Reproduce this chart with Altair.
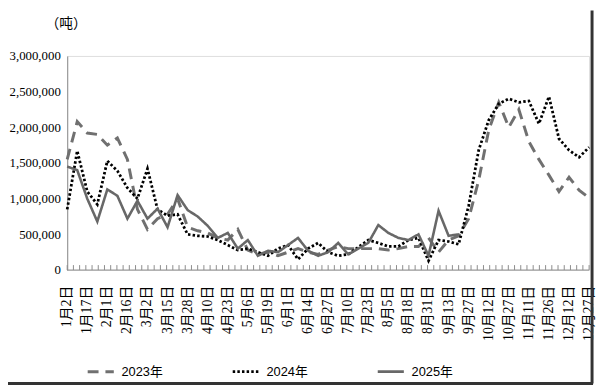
import altair as alt
import pandas as pd

labels = ["1月2日", "1月17日", "2月1日", "2月16日", "3月2日", "3月15日", "3月28日",
          "4月10日", "4月23日", "5月6日", "5月19日", "6月1日", "6月14日", "6月27日",
          "7月10日", "7月23日", "8月5日", "8月18日", "8月31日", "9月13日", "9月27日",
          "10月12日", "10月27日", "11月11日", "11月26日", "12月12日", "12月27日"]

# values in million tonnes, one per weekly category
v2023 = [1.55, 2.08, 1.92, 1.90, 1.75, 1.85, 1.55, 0.85, 0.57, 0.72, 0.78, 1.00, 0.60,
         0.55, 0.52, 0.45, 0.42, 0.57, 0.28, 0.22, 0.25, 0.20, 0.25, 0.30, 0.25, 0.22,
         0.28, 0.33, 0.30, 0.30, 0.30, 0.30, 0.28, 0.30, 0.33, 0.33, 0.45, 0.25, 0.42,
         0.48, 0.72, 1.26, 1.96, 2.35, 2.00, 2.25, 1.80, 1.55, 1.33, 1.10, 1.30, 1.12, 1.01]
v2024 = [0.85, 1.67, 1.10, 0.92, 1.53, 1.39, 1.15, 1.00, 1.42, 0.85, 0.76, 0.78, 0.50,
         0.48, 0.47, 0.42, 0.35, 0.28, 0.30, 0.25, 0.20, 0.30, 0.35, 0.15, 0.30, 0.38,
         0.25, 0.20, 0.22, 0.32, 0.42, 0.38, 0.33, 0.33, 0.42, 0.45, 0.13, 0.42, 0.40,
         0.36, 0.90, 1.68, 2.10, 2.33, 2.40, 2.35, 2.37, 2.05, 2.43, 1.84, 1.68, 1.58, 1.72]
v2025 = [1.45, 1.40, 1.00, 0.68, 1.13, 1.04, 0.72, 0.97, 0.72, 0.86, 0.60, 1.05, 0.84,
         0.75, 0.62, 0.45, 0.52, 0.30, 0.42, 0.20, 0.27, 0.25, 0.35, 0.45, 0.27, 0.20,
         0.25, 0.38, 0.22, 0.30, 0.38, 0.63, 0.52, 0.45, 0.42, 0.50, 0.20, 0.83, 0.48, 0.50]

series_names = ["2023年", "2024年", "2025年"]
series_colors = ["#707070", "#000000", "#686868"]
series_dash = [[11, 7], [2.5, 2.2], [1, 0]]
series_width = [3, 2.6, 3.2]

rows = []
for name, vals in zip(series_names, [v2023, v2024, v2025]):
    for i, v in enumerate(vals):
        rows.append({"idx": i, "value": v * 1_000_000, "series": name})
df = pd.DataFrame(rows)

n_cat = 53
n_ticks = 85
W, H = 529, 217

serif = "Liberation Serif, Noto Sans CJK SC"
sans = "Liberation Sans, Noto Sans CJK SC"
axis_grey = "#8c8c8c"

xscale = alt.Scale(domain=[0, n_cat - 1], nice=False, zero=False)

legend = alt.Legend(
    orient="none", legendX=19, legendY=305, direction="horizontal", title=None,
    symbolType="stroke", symbolSize=700, symbolStrokeWidth=3,
    labelFont=sans, labelFontSize=13, labelColor="#000000",
    columnPadding=65, labelOffset=6,
)

lines = alt.Chart(df).mark_line().encode(
    x=alt.X("idx:Q", scale=xscale, axis=None),
    y=alt.Y("value:Q", scale=alt.Scale(domain=[0, 3_000_000], nice=False),
            axis=alt.Axis(values=[0, 500000, 1000000, 1500000, 2000000, 2500000, 3000000],
                          format=",d", labelFont=serif, labelFontSize=13,
                          labelColor="#000000", labelPadding=7, ticks=False,
                          domainColor=axis_grey, domainWidth=1, grid=False, title=None)),
    color=alt.Color("series:N", scale=alt.Scale(domain=series_names, range=series_colors),
                    legend=legend),
    strokeDash=alt.StrokeDash("series:N", scale=alt.Scale(domain=series_names, range=series_dash),
                              legend=legend),
    strokeWidth=alt.StrokeWidth("series:N", scale=alt.Scale(domain=series_names, range=series_width),
                                legend=None),
)

# x axis: baseline, short upward ticks, rotated labels every 2nd category
base = alt.Chart(pd.DataFrame({"a": [0]})).mark_rule(color=axis_grey, strokeWidth=1).encode(
    x=alt.value(0), x2=alt.value(W), y=alt.value(H))

tick_df = pd.DataFrame({"idx": [k * (n_cat - 1) / (n_ticks - 1) for k in range(n_ticks)]})
ticks = alt.Chart(tick_df).mark_rule(color=axis_grey, strokeWidth=1).encode(
    x=alt.X("idx:Q", scale=xscale, axis=None),
    y=alt.value(H),
    y2=alt.value(H - 5),
)

lab_df = pd.DataFrame({"idx": [2 * k for k in range(len(labels))], "label": labels})
xlabels = alt.Chart(lab_df).mark_text(
    angle=270, align="right", baseline="middle", font=serif, fontSize=14, color="#000000"
).encode(
    x=alt.X("idx:Q", scale=xscale, axis=None),
    y=alt.value(H + 16),
    text="label:N",
)

unit = alt.Chart(pd.DataFrame({"t": ["（吨）"]})).mark_text(
    font=serif, fontSize=14, color="#000000", align="center", baseline="middle"
).encode(text="t:N", x=alt.value(-1), y=alt.value(-32))

frame_r = alt.Chart(pd.DataFrame({"a": [0]})).mark_rule(color="#333333", strokeWidth=3).encode(
    x=alt.value(532), y=alt.value(-46), y2=alt.value(332))
frame_b = alt.Chart(pd.DataFrame({"a": [0]})).mark_rule(color="#333333", strokeWidth=3).encode(
    x=alt.value(-60), x2=alt.value(533), y=alt.value(332))

chart = alt.layer(lines, base, ticks, xlabels, unit, frame_r, frame_b).properties(
    width=W, height=H,
    autosize=alt.AutoSizeParams(type="none"),
    padding={"left": 60, "top": 46, "right": 7, "bottom": 119},
).configure_view(stroke=None).configure(background="#ffffff")

chart.save("out.html", embed_options={"renderer": "svg", "actions": False})
